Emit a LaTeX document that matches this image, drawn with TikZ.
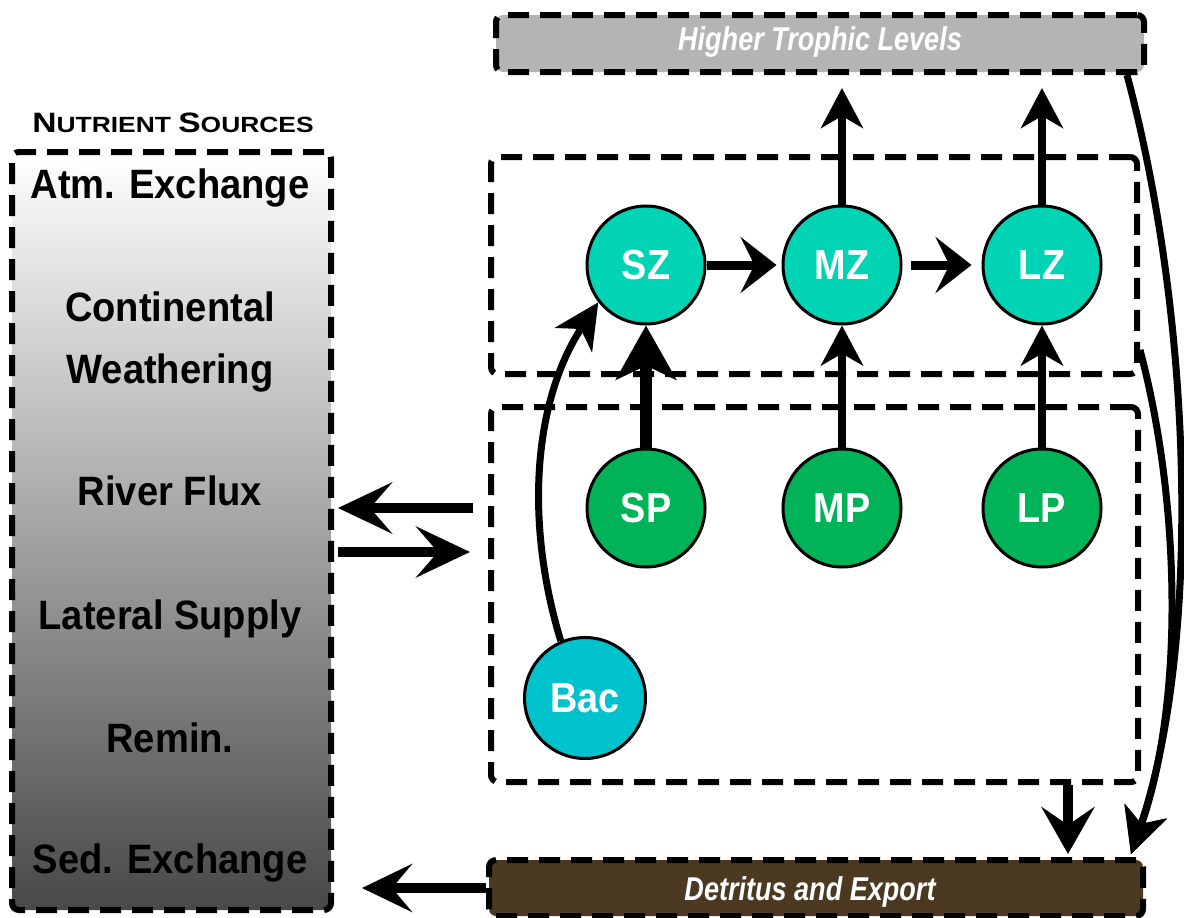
\documentclass[tikz,border=0pt]{standalone}
\usepackage{fontspec}
\usepackage{graphicx}
\setmainfont{Liberation Sans}
\usetikzlibrary{arrows.meta,calc}
\definecolor{zcol}{RGB}{0,212,180}
\definecolor{pcol}{RGB}{0,178,88}
\definecolor{bcol}{RGB}{0,194,204}
\definecolor{htlgray}{RGB}{180,180,180}
\definecolor{detbrown}{RGB}{75,58,33}
\definecolor{srcbot}{RGB}{72,72,72}
\begin{document}
\begin{tikzpicture}[x=1pt,y=-1pt,
  dbox/.style={draw=black, line width=6pt, dash pattern=on 21pt off 11pt, rounded corners=7pt, inner sep=0pt},
  lbl/.style={anchor=base, inner sep=0pt, font=\fontsize{41}{44}\selectfont\bfseries},
  boxlbl/.style={anchor=base, inner sep=0pt, text=white, font=\fontsize{33}{36}\selectfont\bfseries\itshape},
  circ/.style={circle, draw=black, line width=3pt, minimum size=118pt, inner sep=0pt, text=white, font=\fontsize{42}{44}\selectfont\bfseries},
  thinflow/.style={line width=8pt, -{Stealth[length=40pt,width=42pt,inset=12pt]}},
  hflow/.style={line width=9pt, -{Stealth[length=36pt,width=56pt,inset=14pt]}},
  bigflow/.style={line width=12pt, -{Stealth[length=54pt,width=60pt,inset=14pt]}},
  sideflow/.style={line width=10pt, -{Stealth[length=54pt,width=51pt,inset=22pt]}},
  curveflow/.style={line width=7pt, -{Stealth[length=45pt,width=44pt,inset=13pt]}}
]
\useasboundingbox (0,0) rectangle (1184,918);
\fill[white] (0,0) rectangle (1184,918);

% boxes
\node[dbox, fill=htlgray, minimum width=648pt, minimum height=57pt] (htl) at (820,43.5) {};
\node[dbox, fill=detbrown, minimum width=654pt, minimum height=56pt] (det) at (816,888) {};
\node[dbox, top color=white, bottom color=srcbot, minimum width=319pt, minimum height=758pt] (src) at (171.5,531) {};
\node[dbox, minimum width=646pt, minimum height=217pt] (zoo) at (814,265.5) {};
\node[dbox, minimum width=647pt, minimum height=375pt] (phy) at (814.5,594.5) {};

% box texts
\node[boxlbl] (htltxt) at (820,50) {\scalebox{0.82}[1]{Higher Trophic Levels}};
\node[boxlbl] (dettxt) at (810,900) {\scalebox{0.82}[1]{Detritus and Export}};
\node[anchor=base, inner sep=0pt, font=\bfseries] (nstitle) at (173,132)
  {\scalebox{1.2}[1]{\fontsize{28}{30}\selectfont N\fontsize{22}{24}\selectfont UTRIENT \fontsize{28}{30}\selectfont S\fontsize{22}{24}\selectfont OURCES}};

\node[lbl] (t1) at (170,198) {\scalebox{0.93}[1]{Atm. Exchange}};
\node[lbl] (t2) at (170,321) {\scalebox{0.93}[1]{Continental}};
\node[lbl] (t3) at (170,383) {\scalebox{0.93}[1]{Weathering}};
\node[lbl] (t4) at (170,505) {\scalebox{0.93}[1]{River Flux}};
\node[lbl] (t5) at (170,629) {\scalebox{0.93}[1]{Lateral Supply}};
\node[lbl] (t6) at (170,752) {\scalebox{0.93}[1]{Remin.}};
\node[lbl] (t7) at (170,873) {\scalebox{0.93}[1]{Sed. Exchange}};

% circles
\node[circ, fill=zcol] (SZ) at (646,265) {\scalebox{0.9}[1]{SZ}};
\node[circ, fill=zcol] (MZ) at (842,265) {\scalebox{0.9}[1]{MZ}};
\node[circ, fill=zcol] (LZ) at (1042,265) {\scalebox{0.9}[1]{LZ}};
\node[circ, fill=pcol] (SP) at (646,508) {\scalebox{0.9}[1]{SP}};
\node[circ, fill=pcol] (MP) at (842,508) {\scalebox{0.9}[1]{MP}};
\node[circ, fill=pcol] (LP) at (1042,508) {\scalebox{0.9}[1]{LP}};
\node[circ, fill=bcol, minimum size=121pt] (Bac) at (585,698) {\scalebox{0.9}[1]{Bac}};

% coordinates for free ends
\coordinate (la1) at (473,508);
\coordinate (la2) at (338,508);
\coordinate (ra1) at (338,552);
\coordinate (ra2) at (470,552);
\coordinate (dl) at (362,888);

% flows
\draw[hflow, shorten >=5pt] (SZ.east) -- (MZ.west);
\draw[hflow, shorten <=8pt, shorten >=10pt] (MZ.east) -- (LZ.west);
\draw[thinflow, shorten >=13pt] (MZ.north) -- (MZ.north |- htl.south);
\draw[thinflow, shorten >=13pt] (LZ.north) -- (LZ.north |- htl.south);
\draw[bigflow] (SP.north) -- (SZ.south);
\draw[thinflow] (MP.north) -- (MZ.south);
\draw[thinflow] (LP.north) -- (LZ.south);
\draw[curveflow] (Bac.113) .. controls (524,520) and (534,400) .. (SZ.218);

\draw[sideflow] (la1) -- (la2);
\draw[sideflow] (ra1) -- (ra2);
\draw[line width=10pt, -{Stealth[length=50pt,width=48pt,inset=20pt]}] (det.west) -- (dl);

\draw[line width=10pt, -{Stealth[length=47pt,width=53pt,inset=18pt]}, shorten >=3pt] (phy.south -| 1068,0) -- (det.north -| 1068,0);
\draw[curveflow, shorten >=3pt] (htl.south -| 1127,0) .. controls (1195,330) and (1200,650) .. (det.north -| 1130,0);
\draw[curveflow, shorten >=3pt] (zoo.east |- 0,350) .. controls (1180,500) and (1185,700) .. (det.north -| 1130,0);
\end{tikzpicture}
\end{document}
